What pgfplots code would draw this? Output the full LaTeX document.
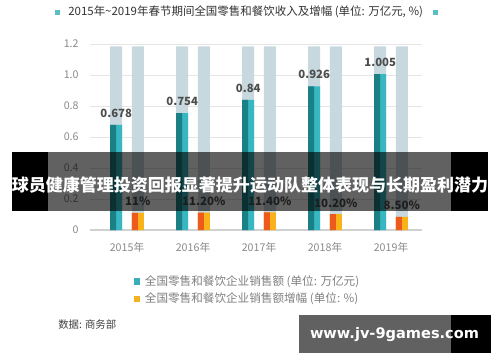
\documentclass[border=0pt]{standalone}
\usepackage{pgfplots}
\pgfplotsset{compat=1.18}
\usepackage{pgfplotstable}
\usepackage{graphicx}
\usepackage{fontspec}
\setmainfont{Noto Sans CJK SC}
\newfontfamily\deja{DejaVu Sans}
\definecolor{grayB}{HTML}{C8D8DF}
\definecolor{tealD}{HTML}{1B7F86}
\definecolor{tealL}{HTML}{37B7C1}
\definecolor{orangeD}{HTML}{EE5A1C}
\definecolor{orangeL}{HTML}{F9B21A}
\definecolor{titleSq}{HTML}{5ABFC3}
\definecolor{legTeal}{HTML}{3AAFBB}
\definecolor{legYel}{HTML}{F4B223}
\definecolor{tickG}{HTML}{8A8A8A}
\definecolor{labG}{HTML}{4D4D4D}
\pgfplotstableread{
x val lab inc inclab bg
0 0.678 0.678 0.110 11 1.185
1 0.754 0.754 0.112 11.20 1.185
2 0.840 0.84 0.114 11.40 1.185
3 0.926 0.926 0.102 10.20 1.185
4 1.005 1.005 0.085 8.50 1.185
}\data
\begin{document}
\begin{tikzpicture}
\begin{scope}[x=0.75pt,y=0.75pt]
\useasboundingbox (0,0) rectangle (500,362);
\fill[white] (0,0) rectangle (500,362);
% title
\fill[titleSq] (54.5,{362-14.5}) rectangle (59.5,{362-9.5});
\fill[titleSq] (432.5,{362-14.5}) rectangle (437.5,{362-9.5});
\node[anchor=west, inner sep=0pt, text=black!80] at (68,{362-12}) {\resizebox{266pt}{!}{\fontsize{8.8}{10}\selectfont 2015年\textasciitilde 2019年春节期间全国零售和餐饮收入及增幅 (单位: 万亿元, \%)}};
\end{scope}
\begin{axis}[
  at={(67.5pt,99pt)}, anchor=south west,
  scale only axis, width=249pt, height=139.5pt,
  xmin=-0.5606, xmax=4.4697, ymin=0, ymax=1.2,
  clip=false,
  axis line style={draw=none},
  tick style={draw=none},
  major tick length=0pt,
  ymajorgrids, grid style={color=black!10, line width=0.6pt},
  ytick={0,0.2,0.4,0.6,0.8,1.0,1.2},
  yticklabels={0,0.2,0.4,0.6,0.8,1.0,1.2},
  xtick={0,1,2,3,4},
  xticklabels={2015年,2016年,2017年,2018年,2019年},
  yticklabel style={font=\fontsize{8}{9}\selectfont, text=tickG, anchor=east, xshift=-5pt},
  xticklabel style={font=\fontsize{8}{9}\selectfont, text=tickG, anchor=north, yshift=-6pt},
  /pgf/number format/assume math mode=true,
  legend style={at={(axis description cs:0.1325,-0.2366)}, anchor=north west, draw=none, fill=none, inner sep=0pt, font=\fontsize{8.7}{9.5}\selectfont, text=black!50, row sep=2.2pt, nodes={inner sep=1pt}},
  legend cell align=left,
  legend image code/.code={\fill[#1, draw=none] (0pt,-2.3pt) rectangle (4.6pt,2.3pt); \path (7pt,0pt);},
]
\draw[black!18, line width=0.8pt] (axis cs:-0.5606,0) -- (axis cs:4.4697,0);
\addplot[ybar, bar width=0.182, bar shift=0pt, fill=grayB, draw=none, forget plot] table[x expr=\thisrow{x}-0.163, y=bg]{\data};
\addplot[ybar, bar width=0.182, bar shift=0pt, fill=grayB, draw=none, forget plot] table[x expr=\thisrow{x}+0.163, y=bg]{\data};
\addplot[ybar, bar width=0.182, bar shift=0pt, fill=tealL, draw=none, forget plot,
  point meta=explicit symbolic, nodes near coords={\pgfplotspointmeta},
  nodes near coords style={font=\bfseries\fontsize{8.5}{9}\selectfont, text=labG, anchor=south, inner sep=0pt, yshift=5.5pt}]
  table[x expr=\thisrow{x}-0.163, y=val, meta=lab]{\data};
\addplot[ybar, bar width=0.091, bar shift=0pt, fill=tealD, draw=none, forget plot] table[x expr=\thisrow{x}-0.163-0.0455, y=val]{\data};
\addplot[ybar, bar width=0.182, bar shift=0pt, fill=orangeL, draw=none, forget plot,
  point meta=explicit symbolic, nodes near coords={\pgfplotspointmeta\%},
  nodes near coords style={font=\bfseries\fontsize{8.6}{9}\selectfont, text=labG, anchor=south, inner sep=0pt, yshift=5pt}]
  table[x expr=\thisrow{x}+0.163, y=inc, meta=inclab]{\data};
\addplot[ybar, bar width=0.091, bar shift=0pt, fill=orangeD, draw=none, forget plot] table[x expr=\thisrow{x}+0.163-0.0455, y=inc]{\data};
\addlegendimage{fill=legTeal, draw=none}
\addlegendentry{全国零售和餐饮企业销售额 (单位: 万亿元)}
\addlegendimage{fill=legYel, draw=none}
\addlegendentry{全国零售和餐饮企业销售额增幅 (单位: \%)}
\end{axis}
\begin{scope}[x=0.75pt,y=0.75pt]
% source
\node[anchor=west, inner sep=0pt, text=black!75, font=\fontsize{7.8}{9}\selectfont] at (58,{362-325}) {数据: 商务部};
% banner overlay
\fill[black, opacity=0.62] (48,{362-211}) rectangle (451,{362-152});
\fill[black] (12,{362-211}) rectangle (48,{362-152});
\fill[black] (451,{362-211}) rectangle (488,{362-152});
\node[inner sep=0pt, text=white] at (250,{362-185}) {\resizebox{357pt}{!}{\bfseries\fontsize{12.3}{14}\selectfont 球员健康管理投资回报显著提升运动队整体表现与长期盈利潜力}};
% watermark
\fill[black, opacity=0.62] (299,{362-353}) rectangle (451,{362-315});
\fill[black] (451,{362-353}) rectangle (491,{362-315});
\node[inner sep=0pt, text=white] at (394.5,{362-335}) {\resizebox{126.75pt}{!}{\deja\bfseries\fontsize{11}{13}\selectfont www.jv-9games.com}};
\end{scope}
\end{tikzpicture}
\end{document}
